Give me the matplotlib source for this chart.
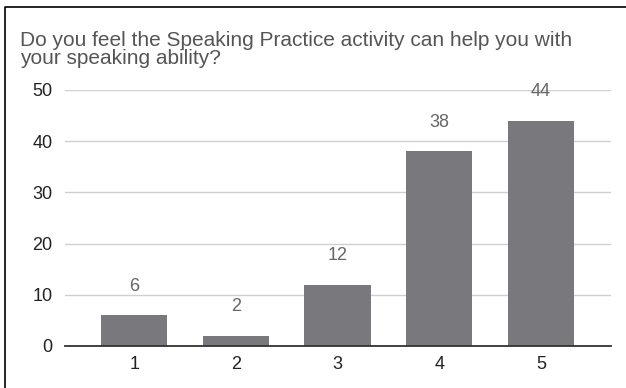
import matplotlib
matplotlib.use("Agg")
import matplotlib.pyplot as plt
from matplotlib.lines import Line2D

categories = ["1", "2", "3", "4", "5"]
values = [6, 2, 12, 38, 44]
yticks = [0, 10, 20, 30, 40, 50]
title = "Do you feel the Speaking Practice activity can help you with\nyour speaking ability?"

plt.rcParams['font.family'] = ['Liberation Sans', 'DejaVu Sans']

W, H = 626, 388
fig = plt.figure(figsize=(W/100, H/100), dpi=100)
ax = fig.add_axes([65/W, 1 - 346/H, 546/W, 256/H])

x = list(range(len(categories)))
ax.bar(x, values, width=0.65, color="#79797d", zorder=3)
for xi, v in zip(x, values):
    ax.text(xi, v + 5.7, str(v), ha="center", va="center", fontsize=13, color="#666666", zorder=4)

ax.set_ylim(0, 50)
ax.set_xlim(-0.68, 4.69)
ax.set_yticks(yticks)
ax.set_xticks(x)
ax.set_xticklabels(categories)
ax.tick_params(axis="both", length=0, labelsize=13, colors="#222222")
ax.tick_params(axis="y", pad=9)
ax.tick_params(axis="x", pad=7)
ax.yaxis.grid(True, color="#cfcfcf", linewidth=1, zorder=0)
for s in ["top", "right", "left"]:
    ax.spines[s].set_visible(False)
ax.spines["bottom"].set_color("#333333")
ax.spines["bottom"].set_linewidth(1.3)
ax.spines["bottom"].set_zorder(5)

fig.text(20/W, 1 - 31/H, title, ha="left", va="top", fontsize=15, color="#555555", linespacing=0.95)

fig.add_artist(Line2D([5/W, 5/W, 1], [0, 1 - 7/H, 1 - 7/H], transform=fig.transFigure,
                      color="black", linewidth=1.2))

fig.savefig("out.png", dpi=100)
